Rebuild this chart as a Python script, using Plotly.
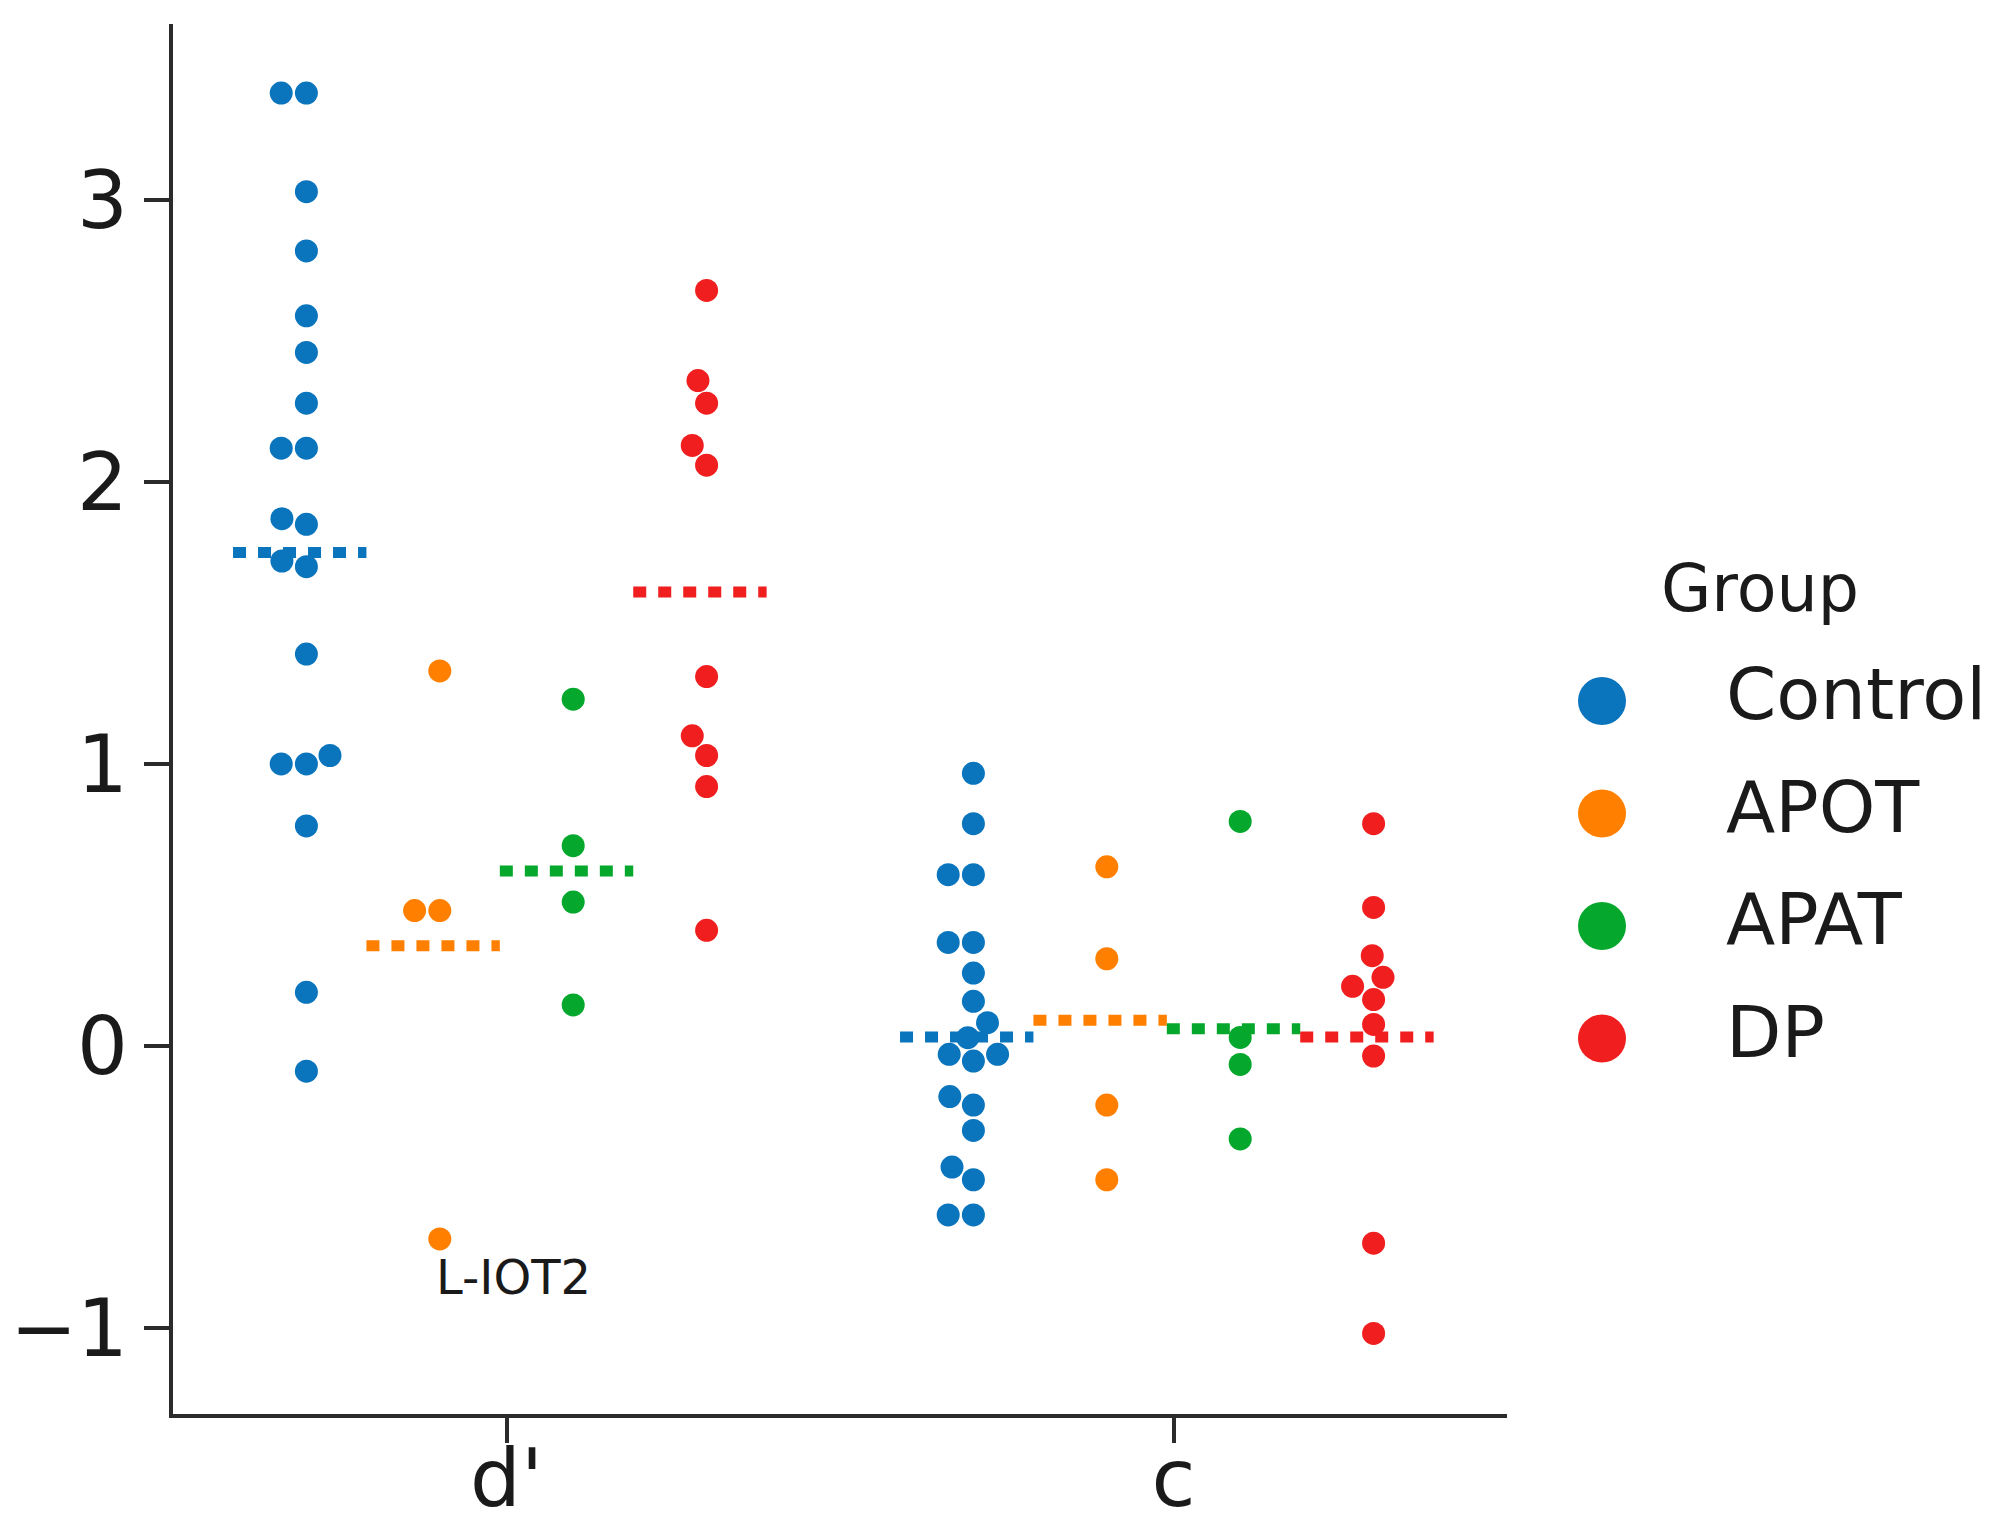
import numpy as np
import plotly.graph_objects as go

measures = ["d'", "c"]
groups = ["Control", "APOT", "APAT", "DP"]
colors = ["#0a74bd", "#ff8000", "#05a82d", "#f01e1e"]

# d' scores per group
control_d = [3.38, 3.38, 3.03, 2.82, 2.59, 2.46, 2.28, 2.12, 2.12, 1.87, 1.85,
             1.72, 1.70, 1.39, 1.03, 1.00, 1.00, 0.78, 0.19, -0.09]
apot_d = [1.33, 0.48, 0.48, -0.685]
apat_d = [1.23, 0.71, 0.51, 0.145]
dp_d = [2.68, 2.36, 2.28, 2.13, 2.06, 1.31, 1.10, 1.03, 0.92, 0.41]

# c scores per group
control_c = [0.967, 0.788, 0.607, 0.607, 0.367, 0.367, 0.258, 0.158, 0.082, 0.029,
             -0.030, -0.030, -0.054, -0.18, -0.21, -0.30, -0.43, -0.475, -0.60, -0.60]
apot_c = [0.635, 0.309, -0.21, -0.475]
apat_c = [0.796, 0.03, -0.066, -0.33]
dp_c = [0.788, 0.491, 0.32, 0.243, 0.211, 0.164, 0.076, -0.036, -0.70, -1.02]

# group means drawn as dotted lines
mean_d = [1.75, 0.355, 0.62, 1.61]
mean_c = [0.031, 0.091, 0.061, 0.031]

outlier_label = "L-IOT2"

data = {
    "d'": [control_d, apot_d, apat_d, dp_d],
    "c": [control_c, apot_c, apat_c, dp_c],
}
means = {"d'": mean_d, "c": mean_c}

# figure geometry (pixels, page has an 8px body margin)
W, H = 1995, 1520
L, R, T, B = 165, 10, 16, 114
PW = W - L - R
PH = H - T - B
AXW = 1334
XR = [-0.5, 1.5]
YR = [-1.306, 3.625]
px_x = AXW / (XR[1] - XR[0])
px_y = PH / (YR[1] - YR[0])

DOT = 23
dodge = [-0.3, -0.1, 0.1, 0.3]
FONT = "DejaVu Sans"
INK = "#1a1a1a"


def swarm(values, d=24.0):
    vals = np.asarray(values, float)
    order = np.argsort(vals, kind="stable")
    placed = []
    out = np.zeros(len(vals))
    for i in order:
        y = vals[i] * px_y
        near = [(a, b) for a, b in placed if abs(b - y) < d]
        cands = [0.0]
        for a, b in near:
            dx = np.sqrt(max(d * d - (b - y) ** 2, 0)) * 1.05
            cands += [a - dx, a + dx]
        cands.sort(key=abs)
        pick = cands[-1]
        for c in cands:
            if all((c - a) ** 2 + (y - b) ** 2 >= (d * 0.999) ** 2 for a, b in near):
                pick = c
                break
        placed.append((pick, y))
        out[i] = pick / px_x
    return out


def paper_x(p):
    return (p - L) / PW


def paper_y(p):
    return (H - B - p) / PH


fig = go.Figure()

for mi, m in enumerate(measures):
    for gi, g in enumerate(groups):
        vals = data[m][gi]
        pos = mi + dodge[gi]
        xs = pos + swarm(vals)
        fig.add_trace(go.Scatter(
            x=xs, y=vals, mode="markers", name=g, showlegend=False,
            marker=dict(size=DOT, color=colors[gi], line=dict(width=0))))
        fig.add_trace(go.Scatter(
            x=[pos - 0.11, pos + 0.09], y=[means[m][gi]] * 2, mode="lines",
            showlegend=False, hoverinfo="skip",
            line=dict(color=colors[gi], width=11, dash="13px,12px")))

# label for the APOT d' outlier
lo = int(np.argmin(apot_d))
lo_x = 0 + dodge[1] + swarm(apot_d)[lo]
fig.add_annotation(x=lo_x, y=apot_d[lo] - 0.135, text=outlier_label,
                   xref="x", yref="y", showarrow=False, xanchor="left",
                   yanchor="middle", xshift=-6,
                   font=dict(family=FONT, size=48, color=INK))

# legend drawn on its own hidden axes so the markers can be large
row0, row_step = 693, 112.5
leg_top = row0 - row_step / 2
leg_bot = row0 + row_step * (len(groups) - 0.5)
mark_px, text_px = 1594, 1718
x2_left = 1560
unit2 = text_px - mark_px
x2_range = [(x2_left - mark_px) / unit2, (L + PW - mark_px) / unit2]
idx = list(range(len(groups)))
fig.add_trace(go.Scatter(
    x=[0] * len(groups), y=idx, mode="markers", xaxis="x2", yaxis="y2",
    showlegend=False, hoverinfo="skip", cliponaxis=False,
    marker=dict(size=48, color=colors, line=dict(width=0))))
fig.add_trace(go.Scatter(
    x=[1] * len(groups), y=idx, mode="text", text=groups,
    textposition="middle right", xaxis="x2", yaxis="y2",
    showlegend=False, hoverinfo="skip", cliponaxis=False,
    textfont=dict(family=FONT, size=72, color=INK)))
fig.add_annotation(x=paper_x(1752), y=paper_y(580), xref="paper", yref="paper",
                   text="Group", showarrow=False, xanchor="center", yanchor="middle",
                   font=dict(family=FONT, size=65, color=INK))

axis_style = dict(showline=True, linecolor="#2b2b2b", linewidth=4,
                  ticks="outside", ticklen=25, tickwidth=4, tickcolor="#2b2b2b",
                  showgrid=False, zeroline=False,
                  tickfont=dict(family=FONT, size=80, color=INK))

fig.update_layout(
    width=W, height=H,
    margin=dict(l=L, r=R, t=T, b=B, autoexpand=False),
    plot_bgcolor="white", paper_bgcolor="white",
    showlegend=False,
    xaxis=dict(domain=[0, AXW / PW], range=XR, tickvals=[0, 1], ticktext=measures,
               ticklabelstandoff=-33, **axis_style),
    yaxis=dict(domain=[0, 1], range=YR, tickvals=[-1, 0, 1, 2, 3],
               ticktext=["\u22121", "0", "1", "2", "3"],
               ticklabelstandoff=0, **axis_style),
    xaxis2=dict(domain=[paper_x(x2_left), 1], range=x2_range, visible=False,
                anchor="y2"),
    yaxis2=dict(domain=[paper_y(leg_bot), paper_y(leg_top)],
                range=[len(groups) - 0.5, -0.5], visible=False, anchor="x2"),
)

fig.write_html("out.html")
